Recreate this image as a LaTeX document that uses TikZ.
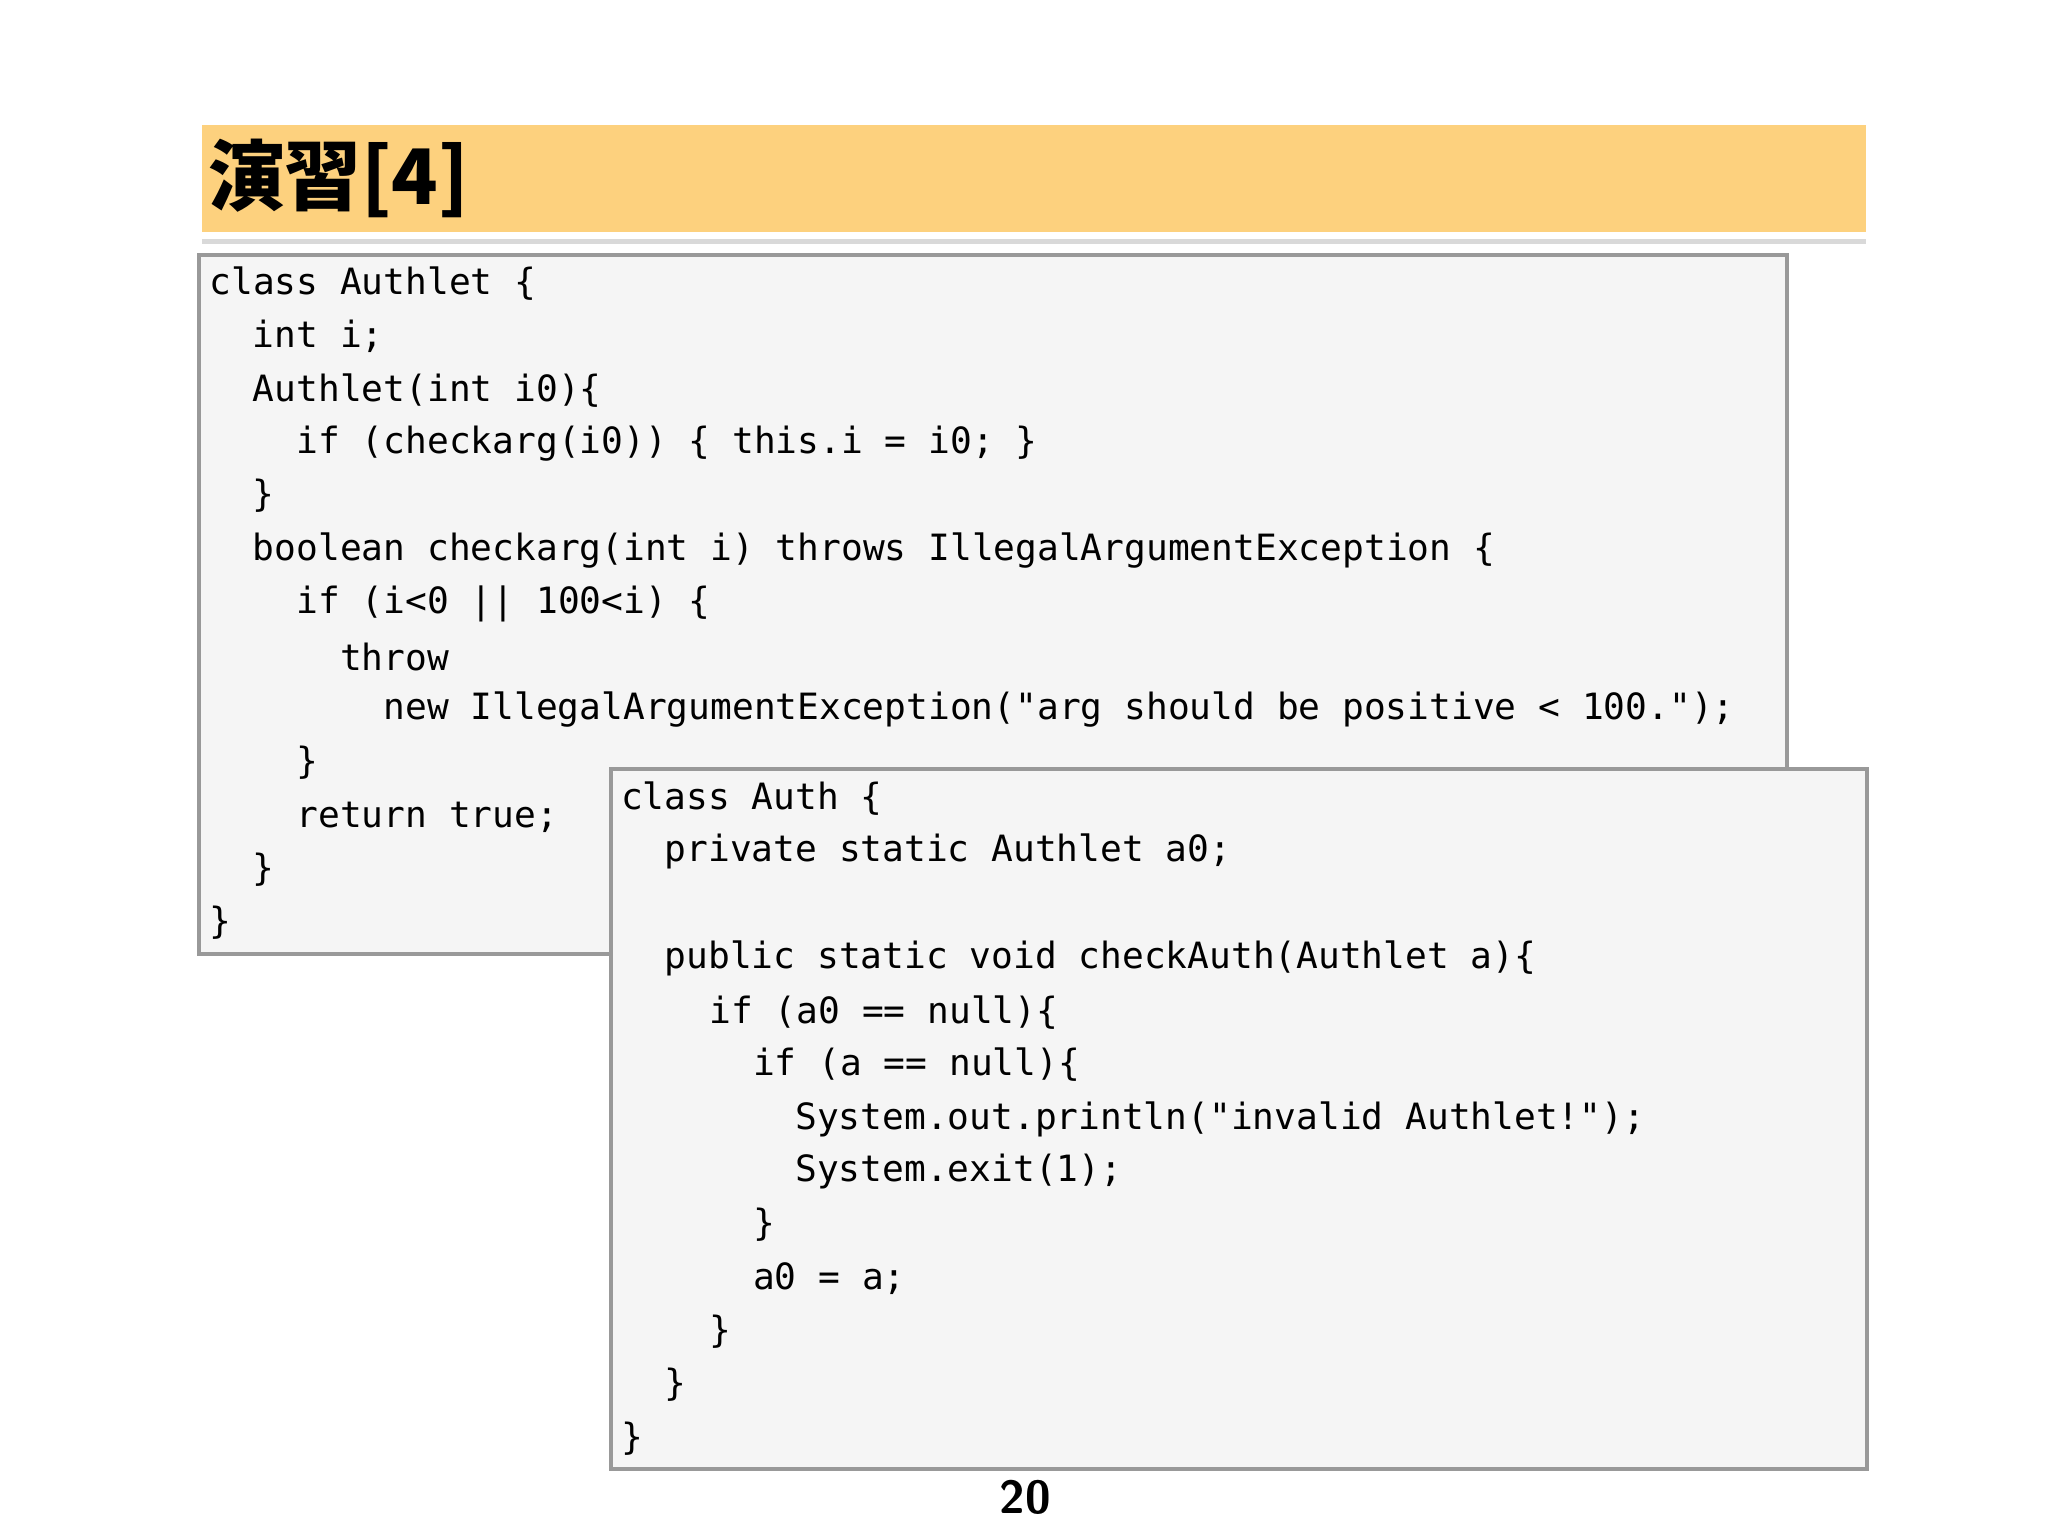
\documentclass[tikz,border=0pt]{standalone}
\usepackage{fontspec}
\setmonofont{DejaVu Sans Mono}
\newfontfamily\cjk{Noto Sans CJK JP}
\begin{document}
\begin{tikzpicture}[x=0.01cm,y=-0.01cm,
  codebox/.style={fill=black!4,draw=black!40,line width=0.8pt},
  code/.style={anchor=west,inner sep=0pt,font=\fontsize{7.8pt}{9pt}\ttfamily}]
\useasboundingbox (0,0) rectangle (1552,1164);
\fill[fill={rgb,255:red,253;green,209;blue,126}] (153,95) rectangle (1414,176);
\draw[black!15,line width=1.2pt] (153,183) -- (1414,183);
\node[anchor=west,inner sep=0pt,font=\cjk\bfseries\fontsize{16.5pt}{18pt}\selectfont] (title) at (157,135) {演習[4]};
\draw[codebox] (151,193) rectangle (1354,723);
\node[code] (a1) at (158,215) {class Authlet \{};
\node[code] (a2) at (191,255) {int i;};
\node[code] (a3) at (191,296) {Authlet(int i0)\{};
\node[code] (a4) at (224,336) {if (checkarg(i0)) \{ this.i = i0; \}};
\node[code] (a5) at (191,376) {\}};
\node[code] (a6) at (191,417) {boolean checkarg(int i) throws IllegalArgumentException \{};
\node[code] (a7) at (224,458) {if (i<0 || 100<i) \{};
\node[code] (a8) at (257,498) {throw};
\node[code] (a9) at (290,538) {new IllegalArgumentException("arg should be positive < 100.");};
\node[code] (a10) at (224,578) {\}};
\node[code] (a11) at (224,619) {return true;};
\node[code] (a12) at (191,659) {\}};
\node[code] (a13) at (158,699) {\}};
\draw[codebox] (463,583) rectangle (1415,1113);
\node[code] (b1) at (470,605) {class Auth \{};
\node[code] (b2) at (503,645) {private static Authlet a0;};
\node[code] (b3) at (503,726) {public static void checkAuth(Authlet a)\{};
\node[code] (b4) at (537,767) {if (a0 == null)\{};
\node[code] (b5) at (570,807) {if (a == null)\{};
\node[code] (b6) at (602,848) {System.out.println("invalid Authlet!");};
\node[code] (b7) at (602,888) {System.exit(1);};
\node[code] (b8) at (570,928) {\}};
\node[code] (b9) at (570,969) {a0 = a;};
\node[code] (b10) at (537,1009) {\}};
\node[code] (b11) at (503,1049) {\}};
\node[code] (b12) at (470,1090) {\}};
\node[font=\sffamily\bfseries\fontsize{10pt}{12pt}\selectfont,inner sep=0pt] (pg) at (777,1135) {20};
\end{tikzpicture}
\end{document}
